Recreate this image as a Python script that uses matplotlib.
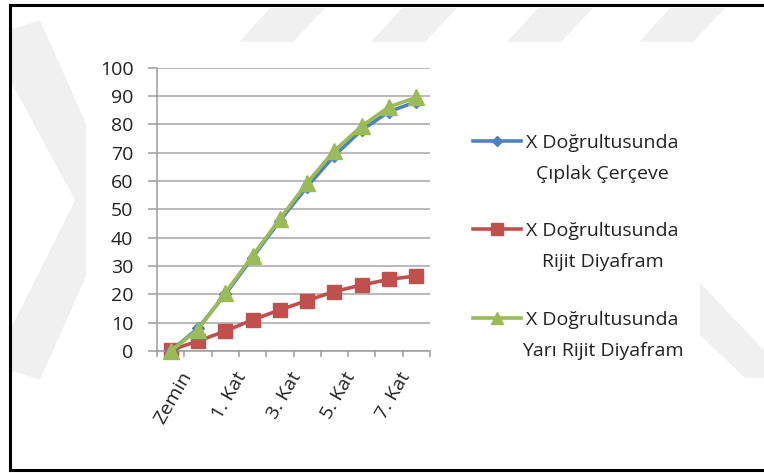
import matplotlib
matplotlib.use("Agg")
import matplotlib.pyplot as plt
from matplotlib.patches import Polygon, Rectangle
from matplotlib.lines import Line2D
import matplotlib.transforms as mtransforms

plt.rcParams['font.family'] = ['Open Sans', 'DejaVu Sans']

categories = ["Zemin", "Zemin Kat", "1. Kat", "2. Kat", "3. Kat", "4. Kat",
              "5. Kat", "6. Kat", "7. Kat", "8. Kat"]
ciplak = [0, 8, 20, 33, 46, 58, 69, 78, 84.5, 88]
rijit = [0.3, 3.5, 7, 11, 14.5, 17.8, 21, 23.3, 25.3, 26.5]
yari_rijit = [0, 7.5, 20.5, 33.6, 46.6, 59.4, 70.7, 79.4, 86.2, 89.5]
series_names = ["X Doğrultusunda", "X Doğrultusunda", "X Doğrultusunda"]
series_sub = ["Çıplak Çerçeve", "Rijit Diyafram", "Yarı Rijit Diyafram"]
yticks = list(range(0, 101, 10))

W, H = 764, 473
fig = plt.figure(figsize=(W / 100, H / 100), dpi=100)
fig.patch.set_facecolor("white")

def fx(px):
    return px / W

def fy(py):
    return 1 - py / H

def wm_poly(pts):
    fig.patches.append(Polygon([(fx(a), fy(b)) for a, b in pts], closed=True,
                               transform=fig.transFigure, facecolor="#f0f0f0",
                               edgecolor="none", zorder=0))

# faint watermark shapes
for x0 in [239, 371, 507, 639]:
    wm_poly([(x0, 42), (x0 + 54, 42), (x0 + 86, 8), (x0 + 31, 8)])
wm_poly([(10, 30), (40, 20), (120, 200), (40, 380), (10, 370), (10, 330),
         (75, 200), (10, 80)])
wm_poly([(700, 283), (764, 350), (764, 378), (745, 378), (700, 335)])
# white chart area
fig.patches.append(Rectangle((fx(86), fy(433)), fx(700) - fx(86), fy(42) - fy(433),
                             transform=fig.transFigure, facecolor="white",
                             edgecolor="none", zorder=0.5))
# black frame (left, top, bottom)
for (xa, ya, xb, yb) in [(9.5, 5, 9.5, 470), (9.5, 5, 764, 5), (9.5, 470, 764, 470)]:
    fig.lines.append(Line2D([fx(xa), fx(xb)], [fy(ya), fy(yb)], transform=fig.transFigure,
                            color="black", linewidth=2.2, zorder=1))

ax = fig.add_axes([fx(157), fy(351), fx(430) - fx(157), fy(67.7) - fy(351)])
ax.set_zorder(2)
ax.set_facecolor("none")

x = list(range(len(categories)))
blue, red, green = "#4F81BD", "#C0504D", "#9BBB59"
l1, = ax.plot(x, ciplak, color=blue, lw=2.6, marker="D", ms=6.5, mec=blue, mfc=blue,
              zorder=3, clip_on=False)
l2, = ax.plot(x, rijit, color=red, lw=2.6, marker="s", ms=10.5, mec=red, mfc=red,
              zorder=2, clip_on=False)
l3, = ax.plot(x, yari_rijit, color=green, lw=2.6, marker="^", ms=11, mec=green, mfc=green,
              zorder=4, clip_on=False)

ax.set_xlim(-0.5, len(categories) - 0.5)
ax.set_ylim(0, 100)
ax.set_yticks(yticks)
ax.set_yticklabels([str(v) for v in yticks])
ax.yaxis.grid(True, color="#a6a6a6", lw=1.1)
ax.set_axisbelow(True)
for s in ["top", "right"]:
    ax.spines[s].set_visible(False)
for s in ["left", "bottom"]:
    ax.spines[s].set_color("#9c9c9c")
    ax.spines[s].set_linewidth(1.1)
ax.tick_params(axis="y", length=6.5, width=1.1, color="#9c9c9c", pad=10.5,
               labelsize=14, labelcolor="#222222")

# x: tick marks at category boundaries, labels every other category
bounds = [i - 0.5 for i in range(len(categories) + 1)]
ax.set_xticks(bounds)
ax.set_xticklabels([""] * len(bounds))
ax.tick_params(axis="x", which="major", length=4.5, width=1.1, color="#9c9c9c")
lab_pos = x[::2]
ax.set_xticks(lab_pos, minor=True)
ax.set_xticklabels([categories[i] for i in lab_pos], minor=True, rotation=60,
                   ha="right", va="center", rotation_mode="anchor", fontsize=14,
                   color="#222222")
ax.tick_params(axis="x", which="minor", length=0, pad=16)
offset = mtransforms.ScaledTranslation(17 / 100, 0, fig.dpi_scale_trans)
for lab in ax.xaxis.get_minorticklabels():
    lab.set_transform(lab.get_transform() + offset)

leg = ax.legend([l1, l2, l3], series_names, loc="upper left",
                bbox_to_anchor=(fx(463), fy(124)), bbox_transform=fig.transFigure,
                frameon=False, fontsize=14, handlelength=2.5, handletextpad=0.25,
                labelspacing=3.62, borderpad=0, markerscale=0.8)
for t, sub in zip(leg.get_texts(), series_sub):
    t.set_color("#222222")
    ax.annotate(sub, xy=(0.5, 0), xycoords=t, xytext=(0, -9.5), textcoords="offset points",
                ha="center", va="top", fontsize=14, color="#222222",
                annotation_clip=False, zorder=6)

fig.savefig("out.png", dpi=100, facecolor="white")
